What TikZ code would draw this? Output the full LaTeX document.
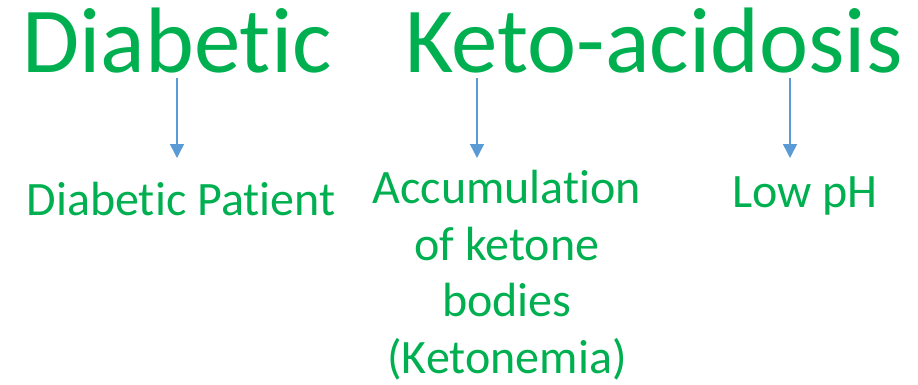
\documentclass[tikz,border=0pt]{standalone}
\usepackage{fontspec}
\setmainfont{Carlito}[Ligatures=NoCommon]
\usetikzlibrary{arrows.meta}
\definecolor{termgreen}{HTML}{00B050}
\definecolor{arrowblue}{HTML}{5B9BD5}
\tikzstyle{term} = [
    inner sep=0pt,
    text=termgreen,
    font=\fontsize{93}{110}\selectfont
]
\tikzstyle{meaning} = [
    inner sep=0pt,
    text=termgreen,
    align=center,
    font=\fontsize{48}{56.5}\selectfont
]
\tikzstyle{arrow} = [arrowblue, line width=1.5pt, -{Triangle[length=14pt,width=14pt]}]

\begin{document}
\begin{tikzpicture}[x=1pt, y=-1pt]
\useasboundingbox (0,0) rectangle (918,384);

\node (diabetic) [term, anchor=base west] at (22,72) {Diabetic};
\node (keto) [term, anchor=base west] at (405,72) {Keto-acidosis};

\node (patient) [meaning, anchor=base] at (181,215) {Diabetic Patient};
\node (ketone) [meaning, anchor=north] at (507,170)
{Accumulation\\of ketone\\bodies\\(Ketonemia)};
\node (lowph) [meaning, anchor=base] at (805,207) {Low pH};

\coordinate (from1) at (177,78);
\coordinate (from2) at (477,78);
\coordinate (from3) at (790,78);

\draw [arrow] (from1) -- (from1 |- 0,158);
\draw [arrow] (from2) -- (from2 |- 0,158);
\draw [arrow] (from3) -- (from3 |- 0,158);

\end{tikzpicture}
\end{document}
